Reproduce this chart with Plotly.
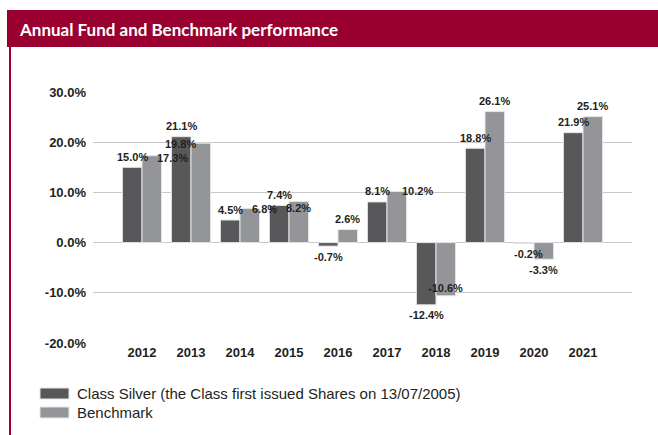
import plotly.graph_objects as go

# ---- data ----
years = ["2012", "2013", "2014", "2015", "2016", "2017", "2018", "2019", "2020", "2021"]
fund = [15.0, 21.1, 4.5, 7.4, -0.7, 8.1, -12.4, 18.8, -0.2, 21.9]
bench = [17.3, 19.8, 6.8, 8.2, 2.6, 10.2, -10.6, 26.1, -3.3, 25.1]
series_names = ["Class Silver (the Class first issued Shares on 13/07/2005)", "Benchmark"]
y_ticks = [-20, -10, 0, 10, 20, 30]
title_text = "Annual Fund and Benchmark performance"

# ---- styling / layout ----
W, H = 658, 435
ML, MR, MT, MB = 93, 26, 92, 92
PW, PH = W - ML - MR, H - MT - MB
DARK = "#58585a"
LIGHT = "#939598"
CRIMSON = "#990030"
TXT = "#231f20"
BAR_HALF = 9.75  # px offset of each bar centre from category centre

# label nudges (px): (series index, year) -> (dx, dy up)
nudge = {
    (1, "2012"): (21, -13),
    (1, "2013"): (-20, -11),
    (1, "2014"): (15, -11.5),
    (1, "2015"): (0, -17.5),
    (1, "2017"): (21, -10.5),
    (1, "2018"): (0, 18.5),
    (0, "2020"): (4, 0),
}


def px(x):
    return (x - ML) / PW


def py(y):
    return 1 - (y - MT) / PH


fig = go.Figure()
for name, vals, col in [(series_names[0], fund, DARK), (series_names[1], bench, LIGHT)]:
    fig.add_trace(go.Bar(
        x=years, y=vals, name=name,
        marker=dict(color=col, line=dict(color="#e6e6e6", width=1)),
        showlegend=False, hoverinfo="skip",
    ))

annotations = []
for si, vals in enumerate([fund, bench]):
    for ci, (yr, v) in enumerate(zip(years, vals)):
        dx, dy = nudge.get((si, yr), (0, 0))
        base = 10.5 if v >= 0 else -10.5
        annotations.append(dict(
            x=ci, y=v, xref="x", yref="y",
            text=f"{v:.1f}%", showarrow=False,
            xanchor="center", yanchor="middle",
            xshift=(-BAR_HALF if si == 0 else BAR_HALF) + dx,
            yshift=base + dy,
            font=dict(family="Liberation Sans, Arial", size=11, color=TXT, weight="bold"),
        ))

# title
annotations.append(dict(
    x=px(17), y=py(29), xref="paper", yref="paper", text=title_text,
    showarrow=False, xanchor="left", yanchor="middle",
    font=dict(family="Lato", size=17, color="white", weight="bold"),
))

# header band, left border and custom legend
shapes = [
    dict(type="rect", xref="paper", yref="paper", x0=px(7), x1=px(658), y0=py(47), y1=py(10),
         fillcolor=CRIMSON, line=dict(width=0), layer="above"),
    dict(type="line", xref="paper", yref="paper", x0=px(10), x1=px(10), y0=py(47), y1=py(435),
         line=dict(color=CRIMSON, width=2)),
]
leg_rows = [(series_names[0], DARK, 393.5), (series_names[1], LIGHT, 412.5)]
for name, col, yc in leg_rows:
    shapes.append(dict(type="rect", xref="paper", yref="paper", x0=px(40), x1=px(69),
                       y0=py(yc + 5.5), y1=py(yc - 5.5), fillcolor=col,
                       line=dict(color="#e6e6e6", width=1)))
    annotations.append(dict(
        x=px(75), y=py(yc), xref="paper", yref="paper", text=name, showarrow=False,
        xanchor="left", yanchor="middle",
        font=dict(family="Liberation Sans, Arial", size=15, color=TXT),
    ))

fig.update_layout(
    width=W, height=H,
    margin=dict(l=ML, r=MR, t=MT, b=MB, pad=0),
    paper_bgcolor="white", plot_bgcolor="white",
    barmode="group", bargap=0.2, bargroupgap=0,
    xaxis=dict(
        type="category", range=[-1, 10], showgrid=False, zeroline=False, showline=False,
        ticks="", tickfont=dict(family="Liberation Sans, Arial", size=13, color=TXT, weight="bold"),
    ),
    yaxis=dict(
        range=[-20, 30], tickvals=y_ticks,
        ticktext=[f"{t:.1f}%" for t in y_ticks],
        showgrid=True, gridcolor="#c8c8c8", gridwidth=1,
        zeroline=True, zerolinecolor="#c8c8c8", zerolinewidth=1,
        showline=False, ticks="", ticklabelstandoff=6,
        tickfont=dict(family="Liberation Sans, Arial", size=13, color=TXT, weight="bold"),
    ),
    annotations=annotations, shapes=shapes,
    showlegend=False,
)

fig.write_html("out.html")
